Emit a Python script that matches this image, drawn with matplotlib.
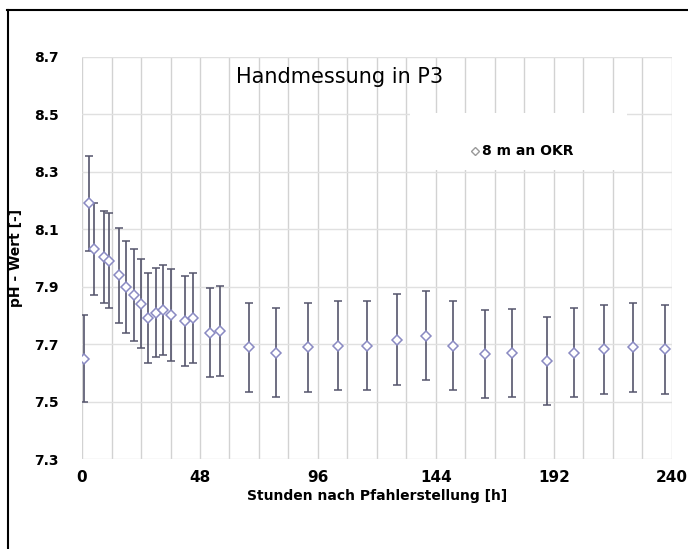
import matplotlib.pyplot as plt
from matplotlib.patches import Rectangle
from matplotlib.lines import Line2D

# hours after pile installation
hours = [1, 3, 5, 9, 11, 15, 18, 21, 24, 27, 30, 33, 36, 42, 45, 52, 56,
         68, 79, 92, 104, 116, 128, 140, 151, 164, 175, 189, 200, 212.5, 224, 237]
# pH values (8 m at OKR)
ph = [7.65, 8.19, 8.03, 8.005, 7.99, 7.94, 7.90, 7.87, 7.84, 7.79, 7.81, 7.82,
      7.80, 7.78, 7.79, 7.74, 7.745, 7.69, 7.67, 7.69, 7.695, 7.695, 7.715, 7.73,
      7.695, 7.665, 7.668, 7.64, 7.67, 7.683, 7.69, 7.683]
ph_err = [0.15, 0.165, 0.16, 0.16, 0.165, 0.165, 0.16, 0.16, 0.155, 0.157, 0.155,
          0.157, 0.16, 0.157, 0.157, 0.155, 0.157, 0.155, 0.155, 0.155, 0.155,
          0.155, 0.158, 0.155, 0.155, 0.153, 0.153, 0.153, 0.155, 0.155, 0.155, 0.155]

x_ticks = [0, 48, 96, 144, 192, 240]
y_ticks = [7.3, 7.5, 7.7, 7.9, 8.1, 8.3, 8.5, 8.7]

fig = plt.figure(figsize=(6.88, 5.49), dpi=100)
ax = fig.add_axes([0.1192, 0.1639, 0.8575, 0.7323])

# errorbars and hollow diamonds
ax.errorbar(hours, ph, yerr=ph_err, fmt='none', ecolor='#55556c', elinewidth=1.2,
            capsize=3, capthick=1.1, zorder=3)
ax.plot(hours, ph, linestyle='none', marker='D', markersize=5.5, markerfacecolor='white',
        markeredgecolor='#8a8ac2', markeredgewidth=1.1, zorder=4)

ax.set_xlim(0, 240)
ax.set_ylim(7.3, 8.7)
ax.set_xticks(x_ticks)
ax.set_xticks(range(0, 241, 12), minor=True)
ax.set_yticks(y_ticks)
ax.set_xticklabels([str(v) for v in x_ticks], fontsize=11, fontweight='bold')
ax.set_yticklabels(['%.1f' % v for v in y_ticks], fontsize=10, fontweight='bold')
ax.tick_params(axis='both', which='both', length=0)
ax.tick_params(axis='y', pad=17)
ax.tick_params(axis='x', pad=8)

# grid
ax.set_axisbelow(True)
ax.grid(True, axis='x', which='both', color='#d2d2d2', linewidth=1.0)
ax.grid(True, axis='y', which='major', color='#e0e0e0', linewidth=1.0)
for s in ax.spines.values():
    s.set_visible(False)

ax.set_xlabel('Stunden nach Pfahlerstellung [h]', fontsize=10, fontweight='bold', labelpad=3)
ax.set_ylabel('pH - Wert [-]', fontsize=10, fontweight='bold')
ax.yaxis.set_label_coords(-0.1, 0.5)

ax.text(0.436, 0.95, 'Handmessung in P3', transform=ax.transAxes, fontsize=15,
        ha='center', va='center', zorder=5)

# white legend area covering grid
ax.add_patch(Rectangle((0.556, 0.719), 0.368, 0.142, transform=ax.transAxes,
                       facecolor='white', edgecolor='none', zorder=1))
handle = Line2D([], [], linestyle='none', marker='D', markersize=4,
                markerfacecolor='white', markeredgecolor='#999999')
leg = ax.legend([handle], ['8 m an OKR'], loc='center', bbox_to_anchor=(0.745, 0.765),
                frameon=False, handletextpad=0.1, handlelength=0.8,
                prop={'weight': 'bold', 'size': 10})

# frame lines of the original figure
fig.add_artist(Line2D([7 / 688, 1], [1 - 10 / 549, 1 - 10 / 549], color='black', linewidth=1.5))
fig.add_artist(Line2D([8 / 688, 8 / 688], [0, 1 - 10 / 549], color='black', linewidth=1.5))

plt.savefig('out.png', dpi=100)
